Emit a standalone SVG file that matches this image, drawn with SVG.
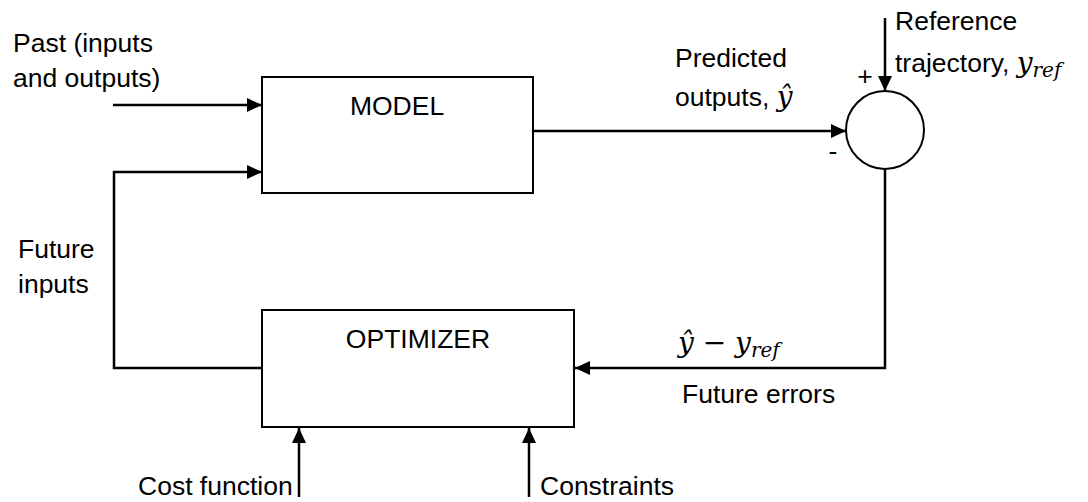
<svg xmlns="http://www.w3.org/2000/svg" width="1088" height="502" viewBox="0 0 1088 502">
<style>
.box{fill:#fff;stroke:#000;stroke-width:2}
.ln{fill:none;stroke:#000;stroke-width:2.5}
.t{font-family:"Liberation Sans",Arial,sans-serif;font-size:26.5px;fill:#000}
.m{font-family:"DejaVu Serif","Liberation Serif",serif;font-style:italic;font-size:28px;fill:#000}
.s{font-size:20px}
</style>
<defs>
<marker id="ah" markerUnits="userSpaceOnUse" markerWidth="16" markerHeight="14" refX="15" refY="7" orient="auto">
<path d="M0,0 L15,7 L0,14 Z" fill="#000"/>
</marker>
</defs>
<rect width="1088" height="502" fill="#fff"/>
<g id="connectors">
<line class="ln" x1="113" y1="105" x2="262" y2="105" marker-end="url(#ah)"/>
<polyline class="ln" points="262,368 114,368 114,172 262,172" marker-end="url(#ah)"/>
<line class="ln" x1="533" y1="131" x2="846" y2="131" marker-end="url(#ah)"/>
<line class="ln" x1="885" y1="18" x2="885" y2="91" marker-end="url(#ah)"/>
<polyline class="ln" points="885,169 885,368 575,368" marker-end="url(#ah)"/>
<line class="ln" x1="299" y1="497" x2="299" y2="428" marker-end="url(#ah)"/>
<line class="ln" x1="529" y1="497" x2="529" y2="428" marker-end="url(#ah)"/>
</g>
<g id="model">
<rect class="box" x="262" y="77" width="271" height="116"/>
<text class="t" x="397" y="115" text-anchor="middle">MODEL</text>
</g>
<g id="optimizer">
<rect class="box" x="262" y="310" width="312" height="117"/>
<text class="t" x="418" y="348" text-anchor="middle">OPTIMIZER</text>
</g>
<g id="sum">
<circle class="box" cx="885" cy="130" r="39"/>
<text class="t" x="865" y="85" text-anchor="middle" font-size="22">+</text>
<text class="t" x="833" y="160" text-anchor="middle" font-size="22">-</text>
</g>
<g id="labels">
<text class="t" x="13" y="52">Past (inputs</text>
<text class="t" x="13" y="87">and outputs)</text>
<text class="t" x="18" y="258">Future</text>
<text class="t" x="18" y="293">inputs</text>
<text class="t" x="675" y="67">Predicted</text>
<text class="t" x="675" y="106">outputs, <tspan class="m">ŷ</tspan></text>
<text class="t" x="895" y="30">Reference</text>
<text class="t" x="895" y="72">trajectory, <tspan class="m">y</tspan><tspan class="m s" dy="5">ref</tspan></text>
<text class="m" x="678" y="352">ŷ − y<tspan class="s" dy="5">ref</tspan></text>
<text class="t" x="682" y="403">Future errors</text>
<text class="t" x="138" y="495">Cost function</text>
<text class="t" x="540" y="495">Constraints</text>
</g>
</svg>
